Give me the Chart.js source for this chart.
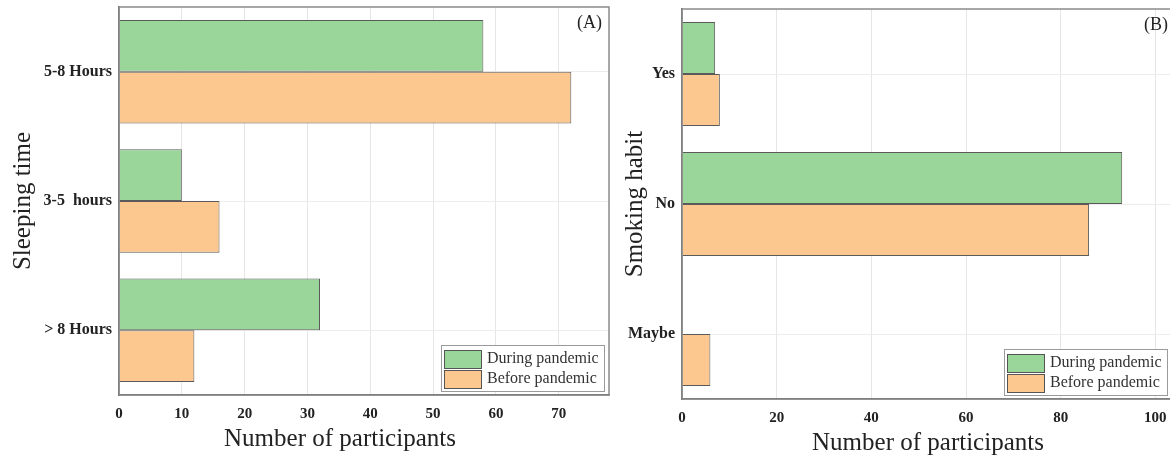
<!DOCTYPE html>
<html lang="en">
<head>
<meta charset="UTF-8" />
<title>Sleeping time and smoking habit</title>
<style>
  html, body { margin: 0; padding: 0; background: #fff; overflow: hidden; }
  body { width: 1170px; height: 457px; position: relative; }
  .panel { position: absolute; top: 0; }
  #panelA { left: 0; }
  #panelB { left: 612px; }
</style>
</head>
<body>
<div class="panel" id="panelA"><canvas id="sleepChart" width="620" height="457"></canvas></div>
<div class="panel" id="panelB"><canvas id="smokeChart" width="580" height="457"></canvas></div>
<script src="https://cdn.jsdelivr.net/npm/chart.js"></script>
<script>
const seriesNames = ['During pandemic', 'Before pandemic'];
const seriesColors = ['#9ad59a', '#fdc890'];
const xTitle = 'Number of participants';

// (A) sleeping time
const sleepCategories = ['5-8 Hours', '3-5  hours', '> 8 Hours'];
const sleepDuring = [58, 10, 32];
const sleepBefore = [72, 16, 12];

// (B) smoking habit
const smokeCategories = ['Yes', 'No', 'Maybe'];
const smokeDuring = [7, 93, 0];
const smokeBefore = [8, 86, 6];

const FONT = '"Liberation Serif", "Times New Roman", serif';
const TEXT = '#222';

// frame, panel tag, x title and the legend box inside the plot
const panelDecor = {
  id: 'panelDecor',
  afterDraw(chart, args, opts) {
    const { ctx, chartArea: a } = chart;
    ctx.save();
    ctx.strokeStyle = '#8a8a8a';
    ctx.lineWidth = 1.5;
    ctx.strokeRect(a.left, a.top, a.right - a.left, a.bottom - a.top);

    ctx.fillStyle = TEXT;
    ctx.font = '18px ' + FONT;
    ctx.textAlign = 'right';
    ctx.textBaseline = 'middle';
    ctx.fillText(opts.tag, a.right - opts.tagInset, a.top + 16);

    // the reference does not centre this title on the axis
    ctx.font = '25px ' + FONT;
    ctx.textAlign = 'center';
    ctx.fillText(xTitle, a.left + opts.titleCenter, a.bottom + 44);

    const lw = 163, lh = 46;
    const lx = Math.round(a.left + 322), ly = Math.round(a.bottom - 4 - lh);
    ctx.fillStyle = '#fff';
    ctx.fillRect(lx, ly, lw, lh);
    ctx.strokeStyle = '#9a9a9a';
    ctx.lineWidth = 1;
    ctx.strokeRect(lx + 0.5, ly + 0.5, lw, lh);
    chart.data.datasets.forEach((ds, i) => {
      const sy = ly + 5 + i * 20;
      ctx.fillStyle = ds.backgroundColor;
      ctx.fillRect(lx + 3, sy, 37, 18);
      ctx.strokeStyle = '#555';
      ctx.strokeRect(lx + 3.5, sy + 0.5, 37, 18);
      ctx.fillStyle = '#333';
      ctx.font = '16px ' + FONT;
      ctx.textAlign = 'left';
      ctx.fillText(ds.label, lx + 46, sy + 9);
    });
    ctx.restore();
  }
};

// pin the axis boxes so the plot area lands where the reference has it
const pinScale = (size, key) => s => {
  s[key] = size;
  s.paddingTop = 0;
  s.paddingBottom = 0;
  s.paddingLeft = 0;
  s.paddingRight = 0;
};

function makePanel(id, labels, during, before, cfg) {
  return new Chart(document.getElementById(id), {
    type: 'bar',
    data: {
      labels,
      datasets: [during, before].map((values, i) => ({
        label: seriesNames[i],
        data: values,
        backgroundColor: seriesColors[i],
        borderColor: '#5a5a5a',
        borderWidth: 1,
        categoryPercentage: 0.8,
        barPercentage: 1.0
      }))
    },
    plugins: [panelDecor],
    options: {
      indexAxis: 'y',
      responsive: false,
      animation: false,
      layout: { padding: { top: cfg.top, right: cfg.right, left: 0, bottom: 0 } },
      plugins: {
        legend: { display: false },
        tooltip: { enabled: false },
        panelDecor: { tag: cfg.tag, tagInset: cfg.tagInset, titleCenter: cfg.titleCenter }
      },
      scales: {
        x: {
          min: 0,
          max: cfg.max,
          afterFit: pinScale(cfg.xHeight, 'height'),
          ticks: { stepSize: cfg.step, includeBounds: false, padding: 10, color: TEXT,
                   font: { family: FONT, size: 15, weight: 'bold' } },
          grid: { color: '#e6e6e6', drawTicks: false },
          border: { color: '#666', width: 1.5 }
        },
        y: {
          afterFit: pinScale(cfg.yWidth, 'width'),
          ticks: { padding: 7, color: TEXT, font: { family: FONT, size: 16, weight: 'bold' } },
          grid: { color: '#ececec', drawTicks: false, offset: false },
          border: { color: '#666', width: 1.5 },
          title: { display: true, text: cfg.yTitle, color: TEXT,
                   font: { family: FONT, size: 25 }, padding: { top: 8, bottom: 0 } }
        }
      }
    }
  });
}

makePanel('sleepChart', sleepCategories, sleepDuring, sleepBefore, {
  top: 7, right: 11, xHeight: 62, yWidth: 119, max: 78, step: 10,
  yTitle: 'Sleeping time', tag: '(A)', tagInset: 7, titleCenter: 221
});

makePanel('smokeChart', smokeCategories, smokeDuring, smokeBefore, {
  top: 9, right: 13, xHeight: 58, yWidth: 70, max: 105, step: 20,
  yTitle: 'Smoking habit', tag: '(B)', tagInset: 11, titleCenter: 246
});
</script>
</body>
</html>
